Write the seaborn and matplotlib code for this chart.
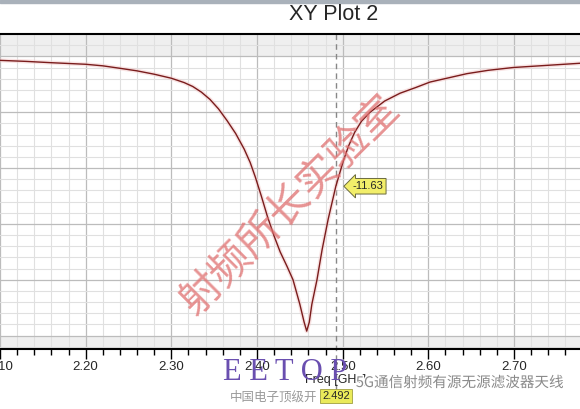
import numpy as np
import pandas as pd
import seaborn as sns
import matplotlib.pyplot as plt
import matplotlib.transforms as mtransforms
import matplotlib.patheffects as pe
from matplotlib.ticker import MultipleLocator

# Curve: S11 in dB against frequency in GHz
freq = [2.100, 2.130, 2.160, 2.200, 2.220, 2.240, 2.260, 2.280, 2.300, 2.315,
        2.325, 2.335, 2.345, 2.355, 2.365, 2.375, 2.385, 2.392, 2.398, 2.405,
        2.412, 2.420, 2.427, 2.435, 2.442, 2.450, 2.455, 2.458, 2.461, 2.464,
        2.470, 2.476, 2.483, 2.492, 2.501, 2.507, 2.514, 2.522, 2.532, 2.549,
        2.567, 2.585, 2.602, 2.625, 2.645, 2.670, 2.699, 2.740, 2.777]
s11_db = [-0.36, -0.45, -0.57, -0.71, -0.85, -1.07, -1.30, -1.60, -1.96, -2.35,
          -2.70, -3.20, -3.85, -4.70, -5.75, -6.90, -8.30, -9.50, -10.8, -12.5,
          -14.3, -16.1, -17.5, -18.8, -20.0, -22.2, -23.8, -24.6, -23.8, -22.2,
          -20.0, -17.3, -14.6, -11.63, -9.30, -8.00, -6.80, -5.80, -5.00, -4.00,
          -3.30, -2.80, -2.30, -1.90, -1.55, -1.25, -1.00, -0.80, -0.62]

marker_freq = 2.492
marker_db = -11.63
x_ticks = [2.10, 2.20, 2.30, 2.40, 2.50, 2.60, 2.70]
x_tick_labels = ["2.10", "2.20", "2.30", "2.40", "2.50", "2.60", "2.70"]

df = pd.DataFrame({"freq": freq, "db": s11_db})

sns.set_style("white")
plt.rcParams['font.family'] = ['Liberation Sans', 'DejaVu Sans', 'Noto Sans CJK SC']

fig = plt.figure(figsize=(5.8, 4.09), dpi=100)
fig.patch.set_facecolor("white")
ax = fig.add_axes([0, 1 - 349 / 409, 1, (349 - 34) / 409])

# shaded bands at top and bottom of the plot area
ax.axhspan(0, 2, color="#efefef", zorder=0.2, lw=0)
ax.axhspan(-26.2, -25, color="#efefef", zorder=0.2, lw=0)

sns.lineplot(data=df, x="freq", y="db", ax=ax, color="#7a1c1c", linewidth=1.0,
             estimator=None, sort=False, zorder=3,
             path_effects=[pe.Stroke(linewidth=3, foreground="#f3c9c9", alpha=0.5), pe.Normal()])

ax.set_xlim(2.10, 2.777)
ax.set_ylim(-26.2, 2)

ax.set_xticks(x_ticks)
ax.set_xticklabels(x_tick_labels, fontsize=9.5)
ax.xaxis.set_minor_locator(MultipleLocator(0.02))
ax.yaxis.set_major_locator(MultipleLocator(5))
ax.yaxis.set_minor_locator(MultipleLocator(1))
ax.set_yticklabels([])
ax.tick_params(axis="x", which="major", direction="out", length=7, width=1, color="black", pad=2, bottom=True)
ax.tick_params(axis="x", which="minor", direction="out", length=4, width=1, color="black", bottom=True)
ax.tick_params(axis="y", which="both", length=0, left=False)

ax.set_axisbelow(True)
ax.grid(which="major", color="#bcbcbc", linewidth=0.9)
ax.grid(which="minor", color="#e0e0e0", linewidth=0.8)

for side in ["left", "right"]:
    ax.spines[side].set_visible(False)
ax.spines["top"].set_color("black")
ax.spines["top"].set_linewidth(1.5)
ax.spines["bottom"].set_color("black")
ax.spines["bottom"].set_linewidth(1.5)
ax.set_xlabel("")
ax.set_ylabel("")

# marker line, running down to the x-value tag
trans = mtransforms.blended_transform_factory(ax.transData, fig.transFigure)
ax.plot([marker_freq, marker_freq], [1 - 34 / 409, 1 - 392 / 409], transform=trans,
        color="#888888", linestyle=(0, (4, 3)), linewidth=1, clip_on=False, zorder=2)

ax.annotate(f"{marker_db:.2f}", xy=(marker_freq, marker_db), xytext=(32, 0),
            textcoords="offset pixels", ha="center", va="center", fontsize=8,
            bbox=dict(boxstyle="larrow,pad=0.25", fc="#f2ee6a", ec="#6a6a40", lw=0.7), zorder=5)

# title
fig.text(334 / 580, 1 - 15 / 409, "XY Plot 2", ha="center", va="center", fontsize=15.5)
fig.patches.append(plt.Rectangle((0, 1 - 3 / 409), 1, 3 / 409, transform=fig.transFigure,
                                 color="#a9b1ba", zorder=0))

# watermarks
fig.text(290 / 580, 1 - 205 / 409, "射频所长实验室", ha="center", va="center", rotation=45,
         fontsize=30, color="#e07070", alpha=0.75, family=["Noto Sans CJK SC"], zorder=10)
fig.text(285 / 580, 1 - 372 / 409, "E E T O P", ha="center", va="center", fontsize=22,
         color="#6a4fb0", family=["Liberation Serif", "DejaVu Serif"], zorder=6)

fig.text(336 / 580, 1 - 380 / 409, "Freq [GHz]", ha="center", va="center", fontsize=9, zorder=5)
fig.text(460 / 580, 1 - 383 / 409, "5G通信射频有源无源滤波器天线", ha="center", va="center",
         fontsize=10.5, color="#8a8a8a", family=["Noto Sans CJK SC"], zorder=8,
         path_effects=[pe.withStroke(linewidth=2, foreground="white")])
fig.text(274 / 580, 1 - 397 / 409, "中国电子顶级开", ha="center", va="center", fontsize=9,
         color="#9a9a9a", family=["Noto Sans CJK SC"], zorder=6)
fig.text(marker_freq, 1 - 396 / 409, f"{marker_freq:.3f}", transform=trans, ha="center", va="center",
         fontsize=8, zorder=7,
         bbox=dict(boxstyle="square,pad=0.2", fc="#eaea5a", ec="#a0a040", lw=0.6))

fig.savefig("out.png", dpi=100)
